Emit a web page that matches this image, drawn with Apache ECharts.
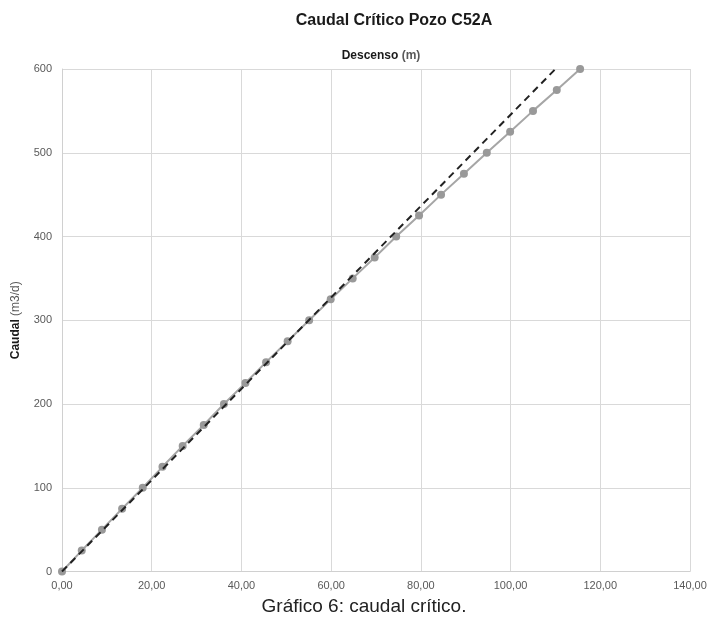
<!DOCTYPE html>
<html>
<head>
<meta charset="utf-8">
<script src="https://cdn.jsdelivr.net/npm/echarts@6/dist/echarts.min.js"></script>
<style>
html,body{margin:0;padding:0;background:#fff;}
#c{width:710px;height:619px;}
</style>
</head>
<body>
<div id="c"></div>
<script>
const descenso = [0, 4.4, 8.9, 13.4, 18.0, 22.4, 26.9, 31.6, 36.1, 40.9, 45.5, 50.3, 55.1, 59.9, 64.8, 69.7, 74.5, 79.6, 84.5, 89.6, 94.7, 99.9, 105.0, 110.3, 115.5];
const caudal = [0, 25, 50, 75, 100, 125, 150, 175, 200, 225, 250, 275, 300, 325, 350, 375, 400, 425, 450, 475, 500, 525, 550, 575, 600];
const tendX = [0, 110];
const tendY = [0, 600];

const chart = echarts.init(document.getElementById('c'));
const font = '"Liberation Sans", Arial, sans-serif';
chart.setOption({
  animation: false,
  backgroundColor: '#fff',
  title: [
    { text: 'Caudal Crítico Pozo C52A', left: 389, top: 8, textAlign: 'center',
      textStyle: { fontFamily: font, fontWeight: 'bold', fontSize: 16, color: '#1a1a1a' } },
    { text: '{b|Descenso }{n|(m)}', left: 376, top: 45, textAlign: 'center',
      textStyle: { rich: {
        b: { fontFamily: font, fontWeight: 'bold', fontSize: 12, color: '#1a1a1a' },
        n: { fontFamily: font, fontSize: 12, color: '#595959' } } } },
    { text: 'Gráfico 6: caudal crítico.', left: 359, top: 592, textAlign: 'center',
      textStyle: { fontFamily: font, fontWeight: 'normal', fontSize: 19, color: '#222' } }
  ],
  grid: { left: 62, right: 20, top: 69, bottom: 47.5, containLabel: false },
  xAxis: {
    type: 'value', min: 0, max: 140, interval: 20,
    axisLine: { show: true, lineStyle: { color: '#d0d0d0', width: 1 } },
    axisTick: { show: false },
    splitLine: { show: true, lineStyle: { color: '#d9d9d9', width: 1 } },
    axisLabel: { fontFamily: font, fontSize: 11, color: '#595959', margin: 9,
      formatter: v => v.toFixed(2).replace('.', ',') }
  },
  yAxis: {
    type: 'value', min: 0, max: 600, interval: 100,
    name: '{b|Caudal }{n|(m3/d)}', nameLocation: 'middle', nameRotate: 90, nameGap: 40,
    nameTextStyle: { rich: {
      b: { fontFamily: font, fontWeight: 'bold', fontSize: 12, color: '#1a1a1a' },
      n: { fontFamily: font, fontSize: 12, color: '#595959' } } },
    axisLine: { show: true, lineStyle: { color: '#d0d0d0', width: 1 } },
    axisTick: { show: false },
    splitLine: { show: true, lineStyle: { color: '#d9d9d9', width: 1 } },
    axisLabel: { fontFamily: font, fontSize: 11, color: '#595959', margin: 10 }
  },
  series: [
    {
      type: 'line',
      data: descenso.map((x, i) => [x, caudal[i]]),
      symbol: 'circle', symbolSize: 8,
      lineStyle: { color: '#a6a6a6', width: 2 },
      itemStyle: { color: '#999999' },
      z: 2
    },
    {
      type: 'line',
      data: tendX.map((x, i) => [x, tendY[i]]),
      symbol: 'none',
      lineStyle: { color: '#222222', width: 2, type: [7, 5] },
      z: 3
    }
  ]
});
</script>
</body>
</html>
